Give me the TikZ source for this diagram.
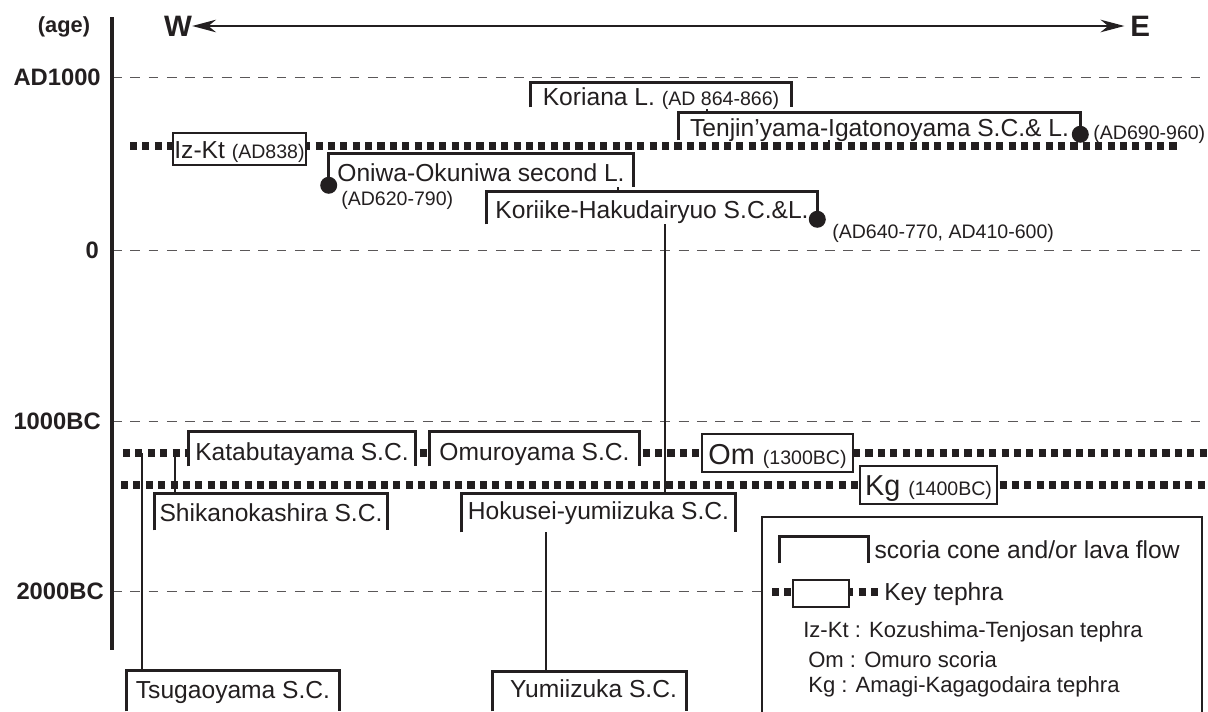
\documentclass[tikz,border=0pt]{standalone}
\usepackage{fontspec}
\setmainfont{Liberation Sans}
\usepackage{tikz}
\usetikzlibrary{positioning, arrows.meta, fit}

\definecolor{ink}{RGB}{35,31,32}
\newcommand{\conefont}{\fontsize{17.5}{20}\selectfont}
\newcommand{\agefont}{\fontsize{13.9}{16}\selectfont}
\newcommand{\tephfont}{\fontsize{20.5}{23}\selectfont}
\newcommand{\tickfont}{\bfseries\fontsize{16.9}{19}\selectfont}
\newcommand{\legfont}{\fontsize{15.7}{18}\selectfont}

\begin{document}
\begin{tikzpicture}[
    x=0.025cm, y=-0.025cm,
    every node/.style={text=ink},
    cone/.style={fill=white, inner sep=0},
    conetxt/.style={font=\conefont, inner sep=0, anchor=base},
    conebar/.style={draw=ink, line width=2.5pt},
    tephbox/.style={draw=ink, line width=1.3pt, fill=white, inner sep=0},
    tephline/.style={draw=ink, line width=5pt, dash pattern=on 5pt off 3.8pt},
    link/.style={draw=ink, line width=1pt},
    datedot/.style={circle, fill=ink, inner sep=0, minimum size=0.425cm},
    agelbl/.style={font=\agefont, inner sep=0},
    ageline/.style={draw=ink!75, line width=0.7pt, dash pattern=on 7pt off 6pt},
    ticklbl/.style={font=\tickfont, inner sep=0, anchor=east},
    legtext/.style={font=\legfont, inner sep=0, anchor=west}
  ]
  \useasboundingbox (0,0) rectangle (1208,711);
  \clip (0,0) rectangle (1208,711);

  \coordinate (axTop) at (112,17);
  \coordinate (axBot) at (112,650);
  \foreach \xx/\yy/\txt/\nm in {101/77/AD1000/ad, 99/250/0/zero, 101/421/1000BC/bcA, 104/591/2000BC/bcB} {
    \node[ticklbl] (tick-\nm) at (\xx,\yy) {\txt};
    \draw[ageline] (axTop |- tick-\nm.east) -- (1208,\yy);
  }
  \draw[ink, line width=2.8pt] (axTop) -- (axBot);

  \node[font=\bfseries\fontsize{15.5}{18}\selectfont, inner sep=0] (age) at (64,27) {(age)};
  \node[font=\bfseries\fontsize{21}{24}\selectfont, inner sep=0] (west) at (178,26) {W};
  \node[font=\bfseries\fontsize{21}{24}\selectfont, inner sep=0, anchor=west] (east) at (1130,26) {E};
  \draw[link, {Stealth[length=17pt, width=9pt, inset=5.5pt]}-{Stealth[length=17pt, width=9pt, inset=5.5pt]}, shorten >=4pt] (west.east) -- (east.west);

  \coordinate (izW) at (130,146);
  \coordinate (izE) at (1180,146);
  \coordinate (omW) at (123,453);
  \coordinate (omE) at (1208,453);
  \coordinate (kgW) at (121,485);
  \coordinate (kgE) at (1208,485);
  \draw[tephline] (izW) -- (izE);
  \draw[tephline] (omW) -- (omE);
  \draw[tephline] (kgW) -- (kgE);

  \node[tephbox, fit={(173,133) (306,165)}] (izkt) {};
  \node[tephbox, fit={(702,434) (853,472)}] (om) {};
  \node[tephbox, fit={(860,466) (997,504)}] (kg) {};
  \node[conetxt] (izktTxt) at (izkt.center |- 0,158) {Iz-Kt {\agefont (AD838)}};
  \node[conetxt, font=\tephfont] (omTxt) at (om.center |- 0,464) {Om {\agefont (1300BC)}};
  \node[conetxt, font=\tephfont] (kgTxt) at (kg.center |- 0,495) {Kg {\agefont (1400BC)}};

  \node[cone, fit={(531,83) (791,107)}] (kor) {};
  \node[cone, fit={(679,113) (1080,140)}] (ten) {};
  \node[cone, fit={(329,154) (633,187)}] (oni) {};
  \node[cone, fit={(487,192) (817,224)}] (koi) {};
  \node[cone, fit={(189,432) (415,466)}] (kata) {};
  \node[cone, fit={(430,432) (639,466)}] (omu) {};
  \node[cone, fit={(155,494) (387,530)}] (shi) {};
  \node[cone, fit={(462,494) (735,532)}] (hok) {};
  \node[cone, fit={(127,671) (339,711)}] (tsu) {};
  \node[cone, fit={(493,672) (686,711)}] (yum) {};

  \node[conetxt] (korTxt) at (kor.south |- 0,105) {Koriana L. {\agefont (AD 864-866)}};
  \node[conetxt] (tenTxt) at (ten.south |- 0,136) {Tenjin’yama-Igatonoyama S.C.\& L.};
  \node[conetxt] (oniTxt) at (oni.south |- 0,181) {Oniwa-Okuniwa second L.};
  \node[conetxt] (koiTxt) at (koi.south |- 0,218) {Koriike-Hakudairyuo S.C.\&L.};
  \node[conetxt] (kataTxt) at (kata.south |- 0,460) {Katabutayama S.C.};
  \node[conetxt] (omuTxt) at (omu.south |- 0,460) {Omuroyama S.C.};
  \node[conetxt] (shiTxt) at (shi.south |- 0,521) {Shikanokashira S.C.};
  \node[conetxt] (hokTxt) at (hok.south |- 0,519) {Hokusei-yumiizuka S.C.};
  \node[conetxt] (tsuTxt) at (tsu.south |- 0,698) {Tsugaoyama S.C.};
  \node[conetxt] (yumTxt) at ([xshift=0.1cm]yum.south |- 0,697) {Yumiizuka S.C.};

  \draw[link] (707,0 |- korTxt.south) -- (707,0 |- ten.north);
  \draw[link] (829,0 |- ten.south) -- (829,0 |- izW);
  \draw[link] (618,0 |- oni.south) -- (618,0 |- koi.north);
  \draw[link] (665,0 |- koi.south) -- (665,0 |- hok.north);
  \draw[link] (546,0 |- hok.south) -- (546,0 |- yum.north);
  \draw[link] (142,0 |- omW) -- (142,0 |- tsu.north);
  \draw[link] (175,0 |- omW) -- (175,0 |- shi.north);

  \node[datedot] (oniDot) at ([yshift=0.05cm]oni.south west) {};
  \node[datedot] (tenDot) at ([yshift=0.15cm]ten.south east) {};
  \node[datedot] (koiDot) at ([yshift=0.125cm]koi.south east) {};
  \node[agelbl, anchor=west] (oniAge) at (341,200) {(AD620-790)};
  \node[agelbl, right=0.1cm of tenDot] (tenAge) {(AD690-960)};
  \node[agelbl, anchor=west] (koiAge) at (832,233) {(AD640-770, AD410-600)};

  \node[draw=ink, line width=1pt, fill=white, inner sep=0, fit={(762,517) (1202,730)}] (legend) {};
  \node[cone, fit={(780,537) (868,563)}] (legCone) {};
  \node[font=\conefont, inner sep=0, right=0.15cm of legCone] (legConeTxt) {scoria cone and/or lava flow};
  \coordinate (legW) at (772,592);
  \coordinate (legE) at (880,592);
  \draw[tephline] (legW) -- (legE);
  \node[tephbox, fit={(793,580) (849,607)}] (legTeph) {};
  \node[font=\conefont, inner sep=0, anchor=west] (legTephTxt) at (884,594) {Key tephra};
  \node[legtext] (defIz) at (803,632) {Iz-Kt : Kozushima-Tenjosan tephra};
  \node[legtext] (defOm) at (808,660) {Om : Omuro scoria};
  \node[legtext] (defKg) at (808,687) {Kg : Amagi-Kagagodaira tephra};

  \foreach \n in {kor, ten, oni, koi, kata, omu, shi, hok, tsu, yum, legCone}
    \draw[conebar] (\n.south west) |- (\n.north) -| (\n.south east);
\end{tikzpicture}
\end{document}
